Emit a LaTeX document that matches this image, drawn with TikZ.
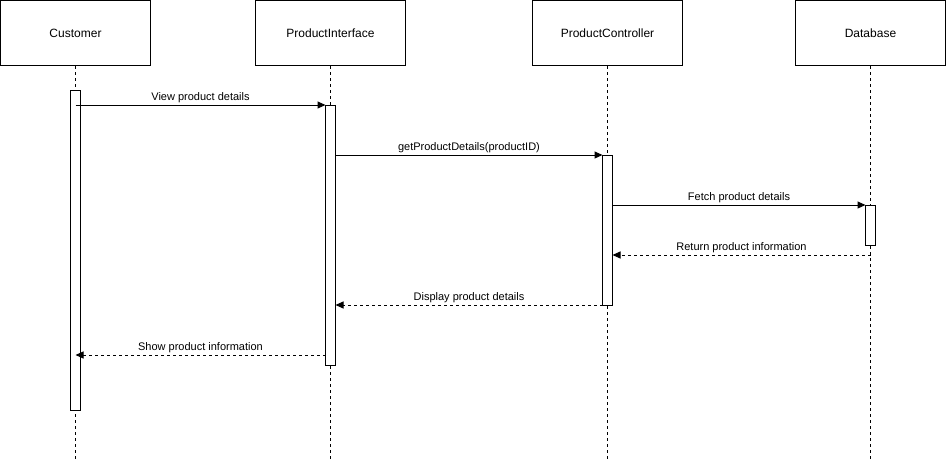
\documentclass[tikz,border=0pt]{standalone}
\usepackage{fontspec}
\setmainfont{Liberation Sans}
\usetikzlibrary{arrows.meta}
\begin{document}
\begin{tikzpicture}[x=1pt,y=-1pt,
  actor/.style={draw, line width=1pt, minimum width=150pt, minimum height=65pt,
    inner sep=0pt, fill=white, font=\fontsize{12}{14}\selectfont},
  activation/.style={draw, line width=1pt, fill=white, minimum width=10pt, inner sep=0pt},
  life/.style={line width=1pt, dash pattern=on 3pt off 3pt},
  msg/.style={line width=1pt, -{Triangle[length=8pt,width=7pt]}},
  reply/.style={msg, dash pattern=on 3pt off 3pt},
  lbl/.style={font=\fontsize{11}{13}\selectfont, above, inner sep=2pt}]
\useasboundingbox (0,0) rectangle (946,461);

% participants
\node[actor] (cust) at (75.5,33) {Customer};
\node[actor] (pi)   at (330.5,33) {ProductInterface};
\node[actor] (pc)   at (607.5,33) {ProductController};
\node[actor] (db)   at (870.5,33) {Database};

% lifeline ends
\coordinate (custEnd) at (75.5,461);
\coordinate (piEnd)   at (330.5,461);
\coordinate (pcEnd)   at (607.5,461);
\coordinate (dbEnd)   at (870.5,461);

\draw[life] (cust.south) -- (custEnd);
\draw[life] (pi.south) -- (piEnd);
\draw[life] (pc.south) -- (pcEnd);
\draw[life] (db.south) -- (dbEnd);

% activation bars
\node[activation, minimum height=320pt] (aCust) at (75.5,250) {};
\node[activation, minimum height=260pt] (aPI)   at (330.5,235) {};
\node[activation, minimum height=150pt] (aPC)   at (607.5,230) {};
\node[activation, minimum height=40pt]  (aDB)   at (870.5,225) {};

% message end points
\coordinate (m1s) at (75.5,105);  \coordinate (m1e) at (325.5,105);
\coordinate (m2s) at (335.5,155); \coordinate (m2e) at (602.5,155);
\coordinate (m3s) at (612.5,205); \coordinate (m3e) at (865.5,205);
\coordinate (m4s) at (870.5,255); \coordinate (m4e) at (612.5,255);
\coordinate (m5s) at (602.5,305); \coordinate (m5e) at (335.5,305);
\coordinate (m6s) at (325.5,355); \coordinate (m6e) at (75.5,355);

% messages
\draw[msg]   (m1s) -- node[lbl] {View product details} (m1e);
\draw[msg]   (m2s) -- node[lbl] {getProductDetails(productID)} (m2e);
\draw[msg]   (m3s) -- node[lbl] {Fetch product details} (m3e);
\draw[reply] (m4s) -- node[lbl] {Return product information} (m4e);
\draw[reply] (m5s) -- node[lbl] {Display product details} (m5e);
\draw[reply] (m6s) -- node[lbl] {Show product information} (m6e);
\end{tikzpicture}
\end{document}
